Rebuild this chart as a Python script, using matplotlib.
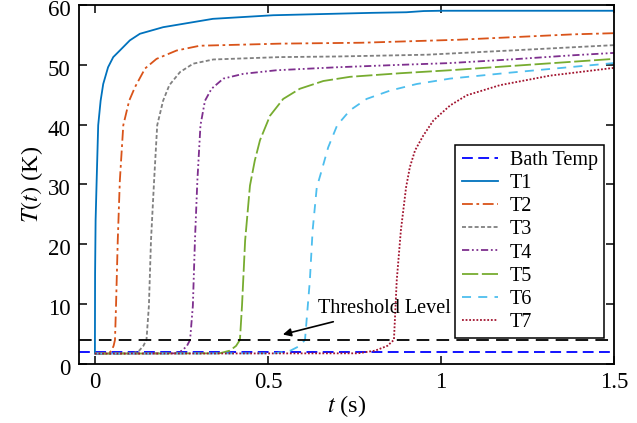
import matplotlib
matplotlib.use('Agg')
import matplotlib.pyplot as plt
import matplotlib.transforms as mtransforms

plt.rcParams['font.family'] = ['Liberation Serif', 'DejaVu Serif']
plt.rcParams['mathtext.fontset'] = 'stix'

# valores
t_bath = [-0.046, 1.5]
T_bath = [1.9, 1.9]
limiar = 4.0

t1 = [0, 0.0005, 0.002, 0.005, 0.0095, 0.0165, 0.024, 0.038, 0.053, 0.072, 0.101, 0.13, 0.197, 0.341, 0.515, 0.8, 0.9, 0.95, 1.0, 1.5]
T1 = [1.7, 15, 24, 30.6, 39.9, 44.0, 46.8, 49.6, 51.3, 52.4, 54.1, 55.2, 56.3, 57.7, 58.3, 58.7, 58.8, 59.0, 59.05, 59.05]

t2 = [0, 0.04, 0.048, 0.054, 0.058, 0.061, 0.066, 0.072, 0.082, 0.099, 0.116, 0.145, 0.178, 0.236, 0.303, 0.438, 0.535, 0.77, 1.05, 1.38, 1.5]
T2 = [1.7, 1.75, 2.2, 3.0, 4.0, 9.7, 20.6, 30.6, 39.9, 44.0, 46.3, 49.4, 51.0, 52.4, 53.2, 53.4, 53.55, 53.7, 54.2, 55.1, 55.3]

t3 = [0, 0.11, 0.128, 0.14, 0.149, 0.156, 0.162, 0.171, 0.18, 0.197, 0.215, 0.246, 0.284, 0.342, 0.535, 0.7, 0.96, 1.2, 1.5]
T3 = [1.7, 1.75, 2.2, 3.0, 4.0, 9.7, 20.6, 30.6, 39.9, 44.0, 46.6, 48.8, 50.2, 50.9, 51.3, 51.4, 51.7, 52.4, 53.3]

t4 = [0, 0.23, 0.252, 0.266, 0.275, 0.283, 0.289, 0.296, 0.305, 0.318, 0.337, 0.371, 0.429, 0.525, 0.7, 0.88, 1.026, 1.2, 1.38, 1.5]
T4 = [1.7, 1.75, 2.2, 3.0, 4.0, 9.7, 20.6, 30.6, 39.9, 44.0, 46.0, 47.7, 48.5, 49.1, 49.6, 50.0, 50.3, 50.9, 51.6, 52.0]

t5 = [0, 0.36, 0.39, 0.408, 0.419, 0.425, 0.434, 0.448, 0.462, 0.477, 0.506, 0.544, 0.592, 0.66, 0.737, 0.882, 1.026, 1.2, 1.5]
T5 = [1.7, 1.75, 2.2, 3.0, 4.0, 9.7, 20.6, 29.8, 34.0, 37.4, 41.5, 44.3, 46.0, 47.3, 48.0, 48.6, 49.1, 49.8, 51.0]

t6 = [0, 0.52, 0.565, 0.592, 0.607, 0.621, 0.629, 0.641, 0.655, 0.674, 0.70, 0.737, 0.785, 0.853, 0.93, 1.026, 1.2, 1.5]
T6 = [1.7, 1.75, 2.2, 3.0, 4.0, 13.9, 22.3, 29.5, 32.3, 36.2, 39.9, 42.4, 44.3, 45.7, 46.8, 47.7, 48.7, 50.3]

t7 = [0, 0.76, 0.81, 0.845, 0.864, 0.872, 0.884, 0.899, 0.91, 0.925, 0.949, 0.978, 1.026, 1.074, 1.17, 1.315, 1.5]
T7 = [1.7, 1.75, 2.2, 3.0, 4.0, 13.9, 22.3, 29.5, 32.9, 35.7, 38.2, 40.7, 43.2, 44.9, 46.6, 48.2, 49.5]

fig = plt.figure(figsize=(6.37, 4.23), dpi=100)
ax = fig.add_axes([0.124, 0.140, 0.840, 0.848])

lw = 1.3
ax.plot(t_bath, T_bath, color='#0000FF', lw=lw, ls=(0, (6, 3)), label='Bath Temp')
ax.plot(t1, T1, color='#0072BD', lw=lw, ls='-', label='T1')
ax.plot(t2, T2, color='#D95319', lw=lw, ls=(0, (6, 2, 1.5, 2)), label='T2')
ax.plot(t3, T3, color='#808080', lw=lw, ls=(0, (2.2, 1.3)), label='T3')
ax.plot(t4, T4, color='#7E2F8E', lw=lw, ls=(0, (4, 1.5, 1, 1.5, 1, 1.5)), label='T4')
ax.plot(t5, T5, color='#77AC30', lw=lw, ls=(0, (9, 2)), label='T5')
ax.plot(t6, T6, color='#4DBEEE', lw=lw, ls=(0, (5, 4)), label='T6')
ax.plot(t7, T7, color='#A2142F', lw=lw, ls=(0, (1, 1)), label='T7')
ax.axhline(limiar, color='black', lw=lw, ls=(0, (7, 4)))

ax.annotate('Threshold Level', xy=(0.543, 4.9), xytext=(0.645, 9.2),
            fontsize=14.5, va='center', ha='left',
            arrowprops=dict(arrowstyle='-|>', color='black', lw=1.2, shrinkA=2, shrinkB=0,
                            mutation_scale=12))

ax.set_xlim(-0.046, 1.5)
ax.set_ylim(0, 60)
ax.set_xticks([0, 0.5, 1, 1.5])
ax.set_xticklabels(['0', '0.5', '1', '1.5'])
ax.set_yticks(range(0, 61, 10))
ax.set_yticklabels([str(v) for v in range(0, 61, 10)])
ax.tick_params(direction='in', top=True, right=True, length=6, width=1.1, labelsize=16.5, pad=6)
desloc = mtransforms.ScaledTranslation(0, -3 / 100, fig.dpi_scale_trans)
for lab in ax.get_yticklabels():
    lab.set_transform(lab.get_transform() + desloc)
for s in ax.spines.values():
    s.set_linewidth(1.3)

ax.set_xlabel('$t$ (s)', fontsize=17.5, labelpad=0)
ax.set_ylabel('$T(t)$ (K)', fontsize=17.5, labelpad=2)

leg = ax.legend(loc='lower right', bbox_to_anchor=(0.981, 0.072), fontsize=14.5, frameon=True,
                fancybox=False, edgecolor='black', framealpha=1, handlelength=1.8,
                handletextpad=0.6, labelspacing=0.2, borderpad=0.3, borderaxespad=0)
leg.get_frame().set_linewidth(1.1)

fig.savefig('out.png', dpi=100)
